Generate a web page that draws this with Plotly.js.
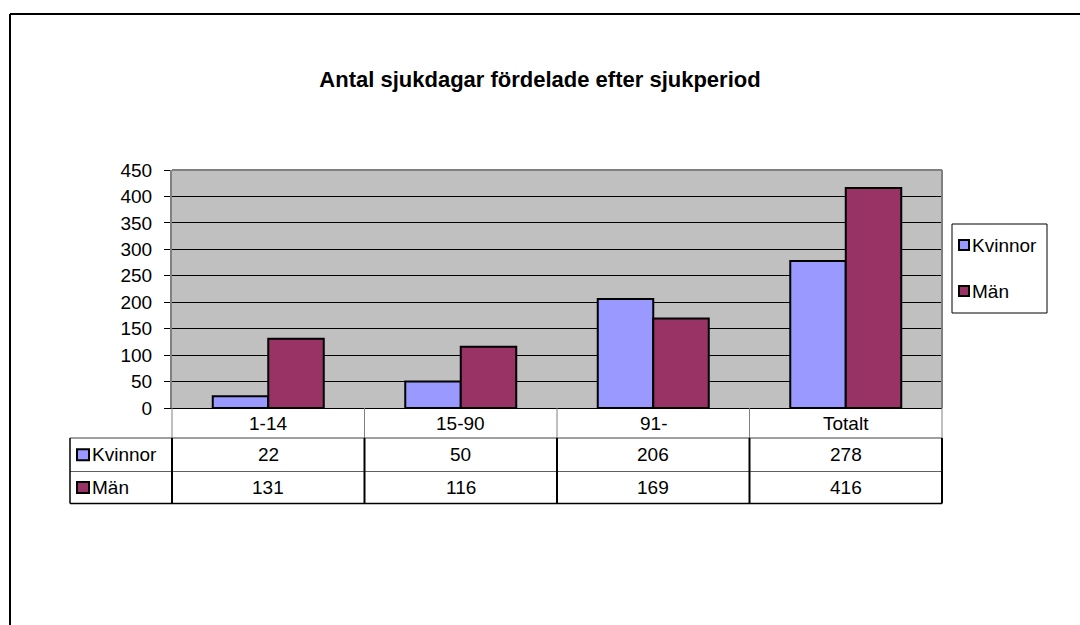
<!DOCTYPE html>
<html>
<head>
<meta charset="utf-8">
<script src="https://cdn.plot.ly/plotly-3.0.1.min.js"></script>
<style>html,body{margin:0;padding:0;background:#fff;}#chart{width:1080px;height:625px;}</style>
</head>
<body>
<div id="chart"></div>
<script>
// ---- data ----
const categories = ['1-14', '15-90', '91-', 'Totalt'];
const seriesNames = ['Kvinnor', 'Män'];
const kvinnor = [22, 50, 206, 278];
const man = [131, 116, 169, 416];
const yTicks = [0, 50, 100, 150, 200, 250, 300, 350, 400, 450];
const titleText = 'Antal sjukdagar fördelade efter sjukperiod';

// ---- styling / layout ----
const colors = ['#9999FF', '#993366'];
const FONT = 'Liberation Sans, Arial, sans-serif';
const FS = 19;
const W = 1080, H = 625;
const PL = 172, PR = 942, PT = 170, PB = 408;
const pw = PR - PL, ph = PB - PT;
const px = v => (v - PL) / pw;          // pixel x -> paper x
const py = v => (PB - v) / ph;          // pixel y -> paper y

const seriesValues = [kvinnor, man];
const traces = seriesNames.map((name, i) => ({
  type: 'bar', name: name, x: categories, y: seriesValues[i],
  marker: {color: colors[i], line: {color: '#000', width: 2}},
  hoverinfo: 'x+y+name'
}));

const shapes = [];
const annotations = [];
function line(x0, y0, x1, y1, color, width) {
  shapes.push({type: 'line', xref: 'paper', yref: 'paper',
    x0: px(x0), y0: py(y0), x1: px(x1), y1: py(y1),
    line: {color: color, width: width}, layer: 'above'});
}
function box(x0, y0, x1, y1, fill, lc, lw) {
  shapes.push({type: 'rect', xref: 'paper', yref: 'paper',
    x0: px(x0), y0: py(y0), x1: px(x1), y1: py(y1),
    fillcolor: fill, line: {color: lc, width: lw}, layer: 'above'});
}

// outer chart frame (top + left visible)
line(10, 14, 1080, 14, '#000', 2);
line(10, 14, 10, 625, '#000', 2);
// plot area border (top, right) gray
line(PL, PT, PR, PT, '#808080', 2);
line(PR, PT, PR, PB, '#808080', 2);

// data table
const rowTop = PB, r1 = 438, r2 = 471.5, rBot = 503.5;
const keyLeft = 70;
const colW = pw / categories.length;
for (let i = 1; i <= categories.length; i++) {
  line(PL + colW * i, rowTop, PL + colW * i, r1, '#808080', 1);
}
line(PL, rowTop, PL, r1, '#808080', 1);
line(keyLeft, r1, PR, r1, '#404040', 1);
line(keyLeft, r2, PR, r2, '#606060', 1);
line(keyLeft, rBot, PR, rBot, '#000', 1.5);
line(keyLeft, r1, keyLeft, rBot, '#000', 1.5);
for (let i = 0; i <= categories.length; i++) {
  line(PL + colW * i, r1, PL + colW * i, rBot, '#000', 2);
}

// category labels and values from data
categories.forEach((c) => {
  annotations.push({xref: 'x', yref: 'paper', x: c, y: py((rowTop + r1) / 2),
    text: c, showarrow: false, xanchor: 'center', yanchor: 'middle',
    font: {family: FONT, size: FS, color: '#000'}});
});
const rowMid = [(r1 + r2) / 2, (r2 + rBot) / 2];
seriesNames.forEach((name, i) => {
  seriesValues[i].forEach((v, j) => {
    annotations.push({xref: 'x', yref: 'paper', x: categories[j], y: py(rowMid[i]),
      text: String(v), showarrow: false, xanchor: 'center', yanchor: 'middle',
      font: {family: FONT, size: FS, color: '#000'}});
  });
  box(77, rowMid[i] - 5.5, 89, rowMid[i] + 5.5, colors[i], '#000', 2);
  annotations.push({xref: 'paper', yref: 'paper', x: px(90), y: py(rowMid[i]),
    text: name, showarrow: false, xanchor: 'left', yanchor: 'middle',
    font: {family: FONT, size: FS, color: '#000'}});
});

// manual legend
box(952, 224, 1047, 313, 'rgba(255,255,255,0)', '#000', 1);
const legY = [245, 291];
seriesNames.forEach((name, i) => {
  box(959, legY[i] - 5, 969, legY[i] + 5, colors[i], '#000', 2);
  annotations.push({xref: 'paper', yref: 'paper', x: px(970), y: py(legY[i]),
    text: name, showarrow: false, xanchor: 'left', yanchor: 'middle',
    font: {family: FONT, size: FS, color: '#000'}});
});

const layout = {
  width: W, height: H,
  margin: {l: PL, r: W - PR, t: PT, b: H - PB, pad: 0},
  paper_bgcolor: '#fff', plot_bgcolor: '#C0C0C0',
  showlegend: false,
  barmode: 'group', bargap: 0.4234, bargroupgap: 0,
  title: {text: '<b>' + titleText + '</b>', x: 0.5, xref: 'container', xanchor: 'center',
    y: 1 - 79 / H, yref: 'container', yanchor: 'middle',
    font: {family: FONT, size: 22, color: '#000'}},
  xaxis: {type: 'category', categoryarray: categories, showticklabels: false,
    ticks: '', showgrid: false, showline: true, linecolor: '#000', linewidth: 1,
    zeroline: false, fixedrange: true},
  yaxis: {range: [0, 450], tickvals: yTicks, ticktext: yTicks.map(String),
    ticks: 'outside', ticklen: 6, tickcolor: '#000', tickwidth: 1,
    ticklabelstandoff: 8,
    tickfont: {family: FONT, size: FS, color: '#000'},
    showgrid: true, gridcolor: '#000', gridwidth: 1,
    showline: true, linecolor: '#808080', linewidth: 2,
    zeroline: false, fixedrange: true},
  shapes: shapes, annotations: annotations,
  font: {family: FONT}
};

Plotly.newPlot('chart', traces, layout, {displayModeBar: false, staticPlot: true});
</script>
</body>
</html>
